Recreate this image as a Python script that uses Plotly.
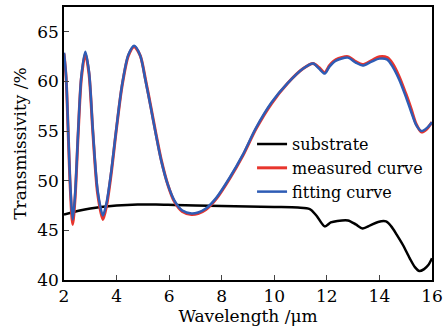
import plotly.graph_objects as go

# Fitting curve
fit_x = [2.0, 2.08, 2.16, 2.24, 2.33, 2.42, 2.54, 2.66, 2.81, 2.95, 3.1, 3.28, 3.48, 3.62, 3.8, 3.98,
         4.2, 4.45, 4.67, 4.9, 5.1, 5.3, 5.5, 5.7, 5.95, 6.2, 6.5, 6.85, 7.1, 7.4, 7.8, 8.3, 8.8, 9.3,
         9.9, 10.5, 11.1, 11.48, 11.7, 11.92, 12.1, 12.35, 12.8, 13.1, 13.36, 13.7, 14.0, 14.3, 14.5,
         14.75, 15.0, 15.2, 15.4, 15.6, 15.8, 16.0]
fit_y = [62.9, 60.5, 55.0, 49.5, 46.1, 48.5, 55.0, 60.5, 63.0, 61.0, 55.0, 49.0, 46.5, 47.8, 51.0, 55.0,
         59.5, 62.7, 63.6, 62.6, 60.1, 57.4, 54.6, 52.0, 49.6, 48.0, 47.0, 46.7, 46.8, 47.2, 48.3, 50.3,
         52.6, 55.3, 57.9, 59.8, 61.3, 61.8, 61.3, 60.8, 61.5, 62.1, 62.4, 61.9, 61.6, 62.0, 62.3, 62.2,
         61.5, 60.2, 58.5, 57.0, 55.6, 55.0, 55.3, 55.9]

# Measured curve
meas_x = fit_x
meas_y = [62.8, 60.4, 54.8, 49.2, 45.6, 48.2, 54.8, 60.3, 62.8, 60.8, 54.8, 48.7, 46.1, 47.5, 50.8, 54.9,
          59.4, 62.6, 63.5, 62.6, 60.2, 57.5, 54.7, 52.1, 49.6, 47.9, 46.9, 46.6, 46.7, 47.1, 48.2, 50.2,
          52.5, 55.2, 57.8, 59.8, 61.3, 61.8, 61.4, 60.9, 61.6, 62.2, 62.5, 62.0, 61.7, 62.1, 62.5, 62.4,
          61.8, 60.5, 58.8, 57.3, 55.7, 54.9, 55.2, 55.9]

# Substrate
sub_x = [2.0, 2.3, 2.6, 3.0, 3.4, 4.0, 4.8, 5.5, 6.2, 7.0, 8.0, 9.0, 10.0, 10.9, 11.35, 11.6, 11.92,
         12.15, 12.4, 12.8, 13.1, 13.36, 13.65, 13.95, 14.25, 14.45, 14.65, 14.9, 15.15, 15.35, 15.52,
         15.7, 15.86, 16.0]
sub_y = [46.6, 46.8, 47.0, 47.2, 47.35, 47.5, 47.6, 47.6, 47.55, 47.5, 47.45, 47.4, 47.35, 47.3, 47.15,
         46.5, 45.4, 45.8, 45.95, 46.0, 45.6, 45.2, 45.5, 45.85, 45.9, 45.4, 44.6, 43.5, 42.2, 41.3, 40.9,
         41.1, 41.5, 42.2]

x_ticks = [2, 4, 6, 8, 10, 12, 14, 16]
y_ticks = [40, 45, 50, 55, 60, 65]

FONT = "DejaVu Serif"

fig = go.Figure()
fig.add_trace(go.Scatter(x=sub_x, y=sub_y, mode="lines", name="substrate",
                         line=dict(color="black", width=2.5, shape="spline", smoothing=0.8)))
fig.add_trace(go.Scatter(x=meas_x, y=meas_y, mode="lines", name="measured curve",
                         line=dict(color="#e8352d", width=3, shape="spline", smoothing=0.8)))
fig.add_trace(go.Scatter(x=fit_x, y=fit_y, mode="lines", name="fitting curve",
                         line=dict(color="#2e5cb5", width=2.5, shape="spline", smoothing=0.8)))

fig.update_layout(
    width=448, height=331,
    margin=dict(l=64, r=11, t=5, b=51),
    paper_bgcolor="white", plot_bgcolor="white",
    font=dict(family=FONT, size=17, color="black"),
    showlegend=True,
    legend=dict(x=0.511, y=0.56, xanchor="left", yanchor="top",
                bgcolor="rgba(0,0,0,0)", font=dict(size=16, family=FONT),
                itemwidth=30, tracegroupgap=0),
    xaxis=dict(range=[2, 16], tickvals=x_ticks, ticks="inside", ticklen=5, tickwidth=1.2,
               showline=True, linecolor="black", linewidth=1.5, mirror=True, showgrid=False,
               zeroline=False, title=dict(text="Wavelength /μm", standoff=4,
                                          font=dict(size=17, family=FONT)),
               tickfont=dict(size=17, family=FONT)),
    yaxis=dict(range=[40, 67.5], tickvals=y_ticks, ticks="inside", ticklen=5, tickwidth=1.2,
               showline=True, linecolor="black", linewidth=1.5, mirror=True, showgrid=False,
               zeroline=False, title=dict(text="Transmissivity /%", standoff=6,
                                          font=dict(size=17, family=FONT)),
               tickfont=dict(size=17, family=FONT)),
)

fig.write_html("out.html", config={"displayModeBar": False},
               post_script="document.body.style.margin='0';document.body.style.padding='0';")
